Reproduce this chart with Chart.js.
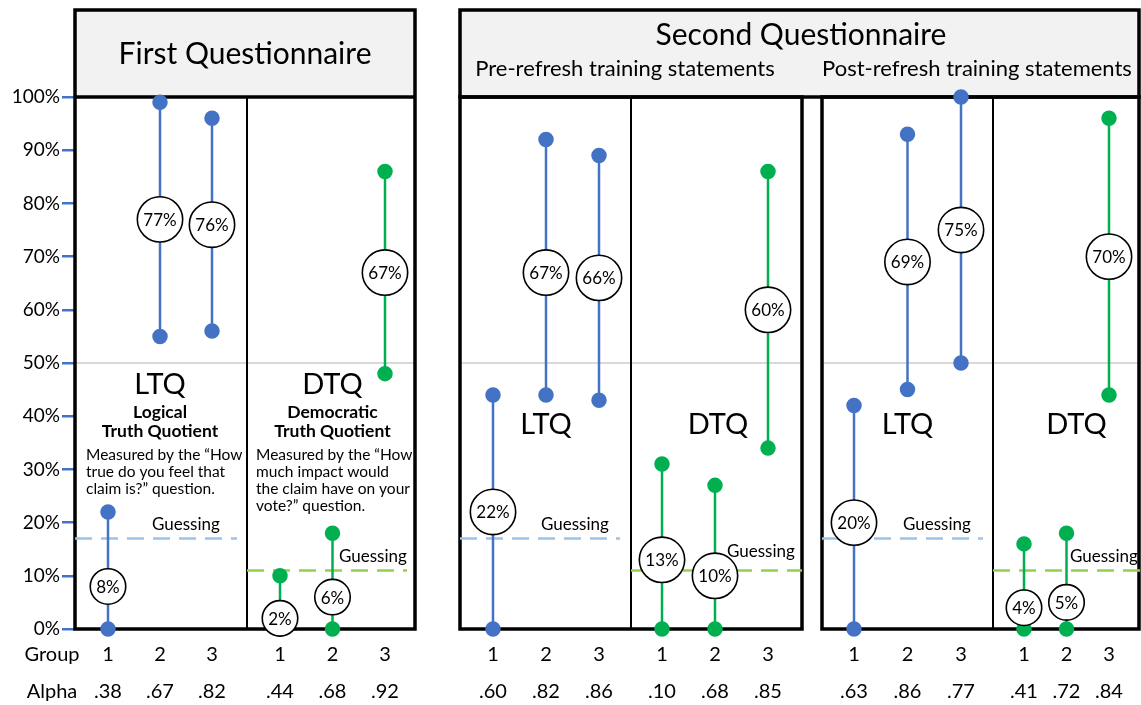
<!DOCTYPE html>
<html>
<head>
<meta charset="utf-8">
<script src="https://cdn.jsdelivr.net/npm/chart.js@4/dist/chart.umd.min.js"></script>
<style>
  html, body { margin: 0; padding: 0; background: #fff; }
  #wrap { width: 1141px; height: 705px; position: relative; }
</style>
</head>
<body>
<div id="wrap"><canvas id="chart"></canvas></div>
<script>
// Data: six sub-panels in order
// First LTQ, First DTQ, Pre-refresh LTQ, Pre-refresh DTQ, Post-refresh LTQ, Post-refresh DTQ
const groupLabels = ['1', '2', '3'];
const lowValues  = [[0, 55, 56], [0, 0, 48], [0, 44, 43], [0, 0, 34], [0, 45, 50], [0, 0, 44]];
const highValues = [[22, 99, 96], [10, 18, 86], [44, 92, 89], [31, 27, 86], [42, 93, 100], [16, 18, 96]];
const midValues  = [[8, 77, 76], [2, 6, 67], [22, 67, 66], [13, 10, 60], [20, 69, 75], [4, 5, 70]];
const alphaLabels = [
  ['.38', '.67', '.82'], ['.44', '.68', '.92'],
  ['.60', '.82', '.86'], ['.10', '.68', '.85'],
  ['.63', '.86', '.77'], ['.41', '.72', '.84']
];
const guessLevels = [17, 11, 17, 11, 17, 11];
const panelKinds = ['LTQ', 'DTQ', 'LTQ', 'DTQ', 'LTQ', 'DTQ'];
const yTicks = [0, 10, 20, 30, 40, 50, 60, 70, 80, 90, 100];

// Layout (x axis units, measured from the left edge of the plot)
const subLeft = [0, 172, 385, 556, 747, 918];
const groupOffset = [33, 33, 33, 31, 32, 31];
const groupStep = [52, 52.5, 53, 53, 53.5, 42.5];
const guessEnd = [162, 332, 545, 727, 908, 1066];

const BLUE = '#4472C4';
const GREEN = '#00B050';
const FONT = 'Lato, "Open Sans", sans-serif';

function groupX(p, g) { return subLeft[p] + groupOffset[p] + groupStep[p] * g; }

const datasets = [];
panelKinds.forEach((kind, p) => {
  datasets.push({
    label: 'Guessing ' + p,
    data: [{ x: subLeft[p], y: guessLevels[p] }, { x: guessEnd[p], y: guessLevels[p] }],
    borderColor: kind === 'LTQ' ? '#9DC3E6' : '#92D050',
    borderWidth: 2.5,
    borderDash: [17, 9],
    pointRadius: 0,
    order: 2
  });
  groupLabels.forEach((gl, g) => {
    const c = kind === 'LTQ' ? BLUE : GREEN;
    datasets.push({
      label: kind + ' ' + p + ' ' + gl,
      data: [{ x: groupX(p, g), y: lowValues[p][g] }, { x: groupX(p, g), y: highValues[p][g] }],
      borderColor: c,
      backgroundColor: c,
      borderWidth: 2.5,
      pointRadius: 6.5,
      pointHoverRadius: 6.5,
      clip: false,
      order: 1
    });
  });
});

const framePlugin = {
  id: 'frames',
  beforeDatasetsDraw(chart) {
    const { ctx, scales: { x, y } } = chart;
    const top = y.getPixelForValue(100), bottom = y.getPixelForValue(0);
    const px = v => x.getPixelForValue(v);
    const y50 = y.getPixelForValue(50);
    ctx.save();
    // header fills
    ctx.fillStyle = '#F2F2F2';
    ctx.fillRect(px(0), 10, px(340) - px(0), top - 10);
    ctx.fillRect(px(385), 10, px(1064) - px(385), top - 10);
    // 50% reference line inside each box
    ctx.strokeStyle = '#D9D9D9';
    ctx.lineWidth = 2;
    [[0, 340], [385, 727], [747, 1064]].forEach(([a, b]) => {
      ctx.beginPath(); ctx.moveTo(px(a), y50); ctx.lineTo(px(b), y50); ctx.stroke();
    });
    // thin dividers
    ctx.strokeStyle = '#000';
    ctx.lineWidth = 2;
    [172, 556, 918].forEach(v => {
      ctx.beginPath(); ctx.moveTo(px(v), top); ctx.lineTo(px(v), bottom); ctx.stroke();
    });
    // thick frames
    ctx.lineWidth = 3.5;
    ctx.strokeRect(px(0), 10, px(340) - px(0), bottom - 10);
    ctx.beginPath(); ctx.moveTo(px(0), top); ctx.lineTo(px(340), top); ctx.stroke();
    ctx.strokeRect(px(385), 10, px(1064) - px(385), top - 10);
    ctx.strokeRect(px(385), top, px(727) - px(385), bottom - top);
    ctx.strokeRect(px(747), top, px(1064) - px(747), bottom - top);
    ctx.restore();
  },
  afterDatasetsDraw(chart) {
    const { ctx, scales: { x, y } } = chart;
    const px = v => x.getPixelForValue(v);
    ctx.save();
    ctx.fillStyle = '#000';
    ctx.textAlign = 'center';
    ctx.textBaseline = 'middle';

    // headers
    ctx.font = '30px ' + FONT;
    ctx.fillText('First Questionnaire', (px(0) + px(340)) / 2, 54);
    ctx.fillText('Second Questionnaire', 801, 35);
    ctx.font = '22px ' + FONT;
    ctx.fillText('Pre-refresh training statements', 625, 69);
    ctx.fillText('Post-refresh training statements', 977, 69);

    // panel names
    const nameY = [385, 385, 425, 425, 425, 425];
    ctx.font = '29px ' + FONT;
    panelKinds.forEach((k, p) => {
      let cx = groupX(p, 1);
      if (p === 3) cx = groupX(p, 1) + 3;
      if (p === 5) cx = groupX(p, 1) + 10;
      ctx.fillText(k, px(cx), nameY[p]);
    });

    // descriptions in first questionnaire
    ctx.font = 'bold 17.5px ' + FONT;
    ctx.fillText('Logical', px(groupX(0, 1)), 412);
    ctx.fillText('Truth Quotient', px(groupX(0, 1)), 431);
    ctx.fillText('Democratic', px(groupX(1, 1)), 412);
    ctx.fillText('Truth Quotient', px(groupX(1, 1)), 431);
    ctx.font = '15.5px ' + FONT;
    ctx.textAlign = 'left';
    ['Measured by the \u201CHow', 'true do you feel that', 'claim is?\u201D question.']
      .forEach((t, i) => ctx.fillText(t, px(11), 455 + i * 17));
    ['Measured by the \u201CHow', 'much impact would', 'the claim have on your', 'vote?\u201D question.']
      .forEach((t, i) => ctx.fillText(t, px(181), 455 + i * 17));

    // guessing labels
    const guessLabelX = [77, 264, 466, 652, 828, 995];
    ctx.font = '17px ' + FONT;
    panelKinds.forEach((k, p) => {
      const ly = y.getPixelForValue(guessLevels[p]) - (p === 3 ? 19 : 14);
      ctx.fillText('Guessing', px(guessLabelX[p]), ly);
    });

    // value bubbles
    ctx.textAlign = 'center';
    ctx.font = '17px ' + FONT;
    midValues.forEach((row, p) => {
      row.forEach((v, g) => {
        const t = v + '%';
        const tw = ctx.measureText(t).width;
        const cx = px(groupX(p, g)), cy = y.getPixelForValue(v);
        const r = Math.max(15.5, tw / 2 + 6);
        ctx.beginPath();
        ctx.arc(cx, cy, r, 0, Math.PI * 2);
        ctx.fillStyle = '#fff';
        ctx.fill();
        ctx.lineWidth = 1.6;
        ctx.strokeStyle = '#000';
        ctx.stroke();
        ctx.fillStyle = '#000';
        ctx.fillText(t, cx, cy + 1);
      });
    });

    // group / alpha rows
    ctx.font = '20px ' + FONT;
    ctx.fillText('Group', 52, 655);
    ctx.fillText('Alpha', 52, 692);
    panelKinds.forEach((k, p) => {
      groupLabels.forEach((gl, g) => {
        ctx.fillText(gl, px(groupX(p, g)), 655);
        ctx.fillText(alphaLabels[p][g], px(groupX(p, g)), 692);
      });
    });
    ctx.restore();
  }
};

new Chart(document.getElementById('chart'), {
  type: 'line',
  data: { datasets },
  options: {
    responsive: true,
    maintainAspectRatio: false,
    animation: false,
    layout: { autoPadding: false, padding: { top: 97, bottom: 76, left: 0, right: 0 } },
    plugins: { legend: { display: false }, tooltip: { enabled: false } },
    scales: {
      x: { type: 'linear', min: 0, max: 1066, display: false },
      y: {
        min: 0, max: 100,
        afterBuildTicks: s => { s.ticks = yTicks.map(v => ({ value: v })); },
        afterFit: s => { s.width = 75; },
        ticks: {
          callback: v => v + '%',
          color: '#000',
          padding: 2,
          font: { family: FONT, size: 19 }
        },
        grid: { drawOnChartArea: false, tickLength: 13, tickColor: BLUE, lineWidth: 2.5 },
        border: { display: false }
      }
    }
  },
  plugins: [framePlugin]
});
</script>
</body>
</html>
